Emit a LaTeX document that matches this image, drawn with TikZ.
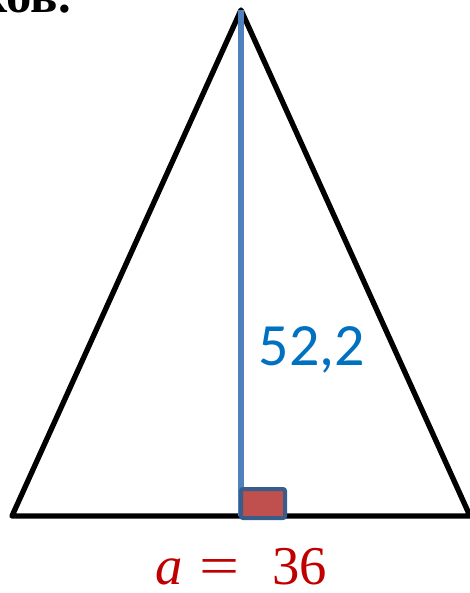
\documentclass[tikz,border=0pt]{standalone}
\usepackage{fontspec}
\setmainfont{Liberation Serif}
\newfontfamily\labelfont{Carlito}
\definecolor{hblue}{HTML}{4F81BD}
\definecolor{sqfill}{HTML}{C0504D}
\definecolor{sqedge}{HTML}{385D8A}
\definecolor{numblue}{HTML}{0070C0}
\definecolor{basered}{HTML}{C00000}
\begin{document}
\begin{tikzpicture}[x=0.75pt,y=-0.75pt]
\useasboundingbox (0,0) rectangle (469,593);
\coordinate (top) at (241,10);
\coordinate (bl) at (12,516);
\coordinate (br) at (470,516);
\coordinate (foot) at (241,516);
\node[anchor=base east, inner sep=0pt, font=\bfseries\fontsize{38}{38}\selectfont] (cap) at (71,12) {ков.};
\draw[line width=4pt, line join=round] (top) -- (bl) -- (br) -- cycle;
\draw[hblue, line width=3.8pt] (top) -- (foot);
\draw[sqedge, fill=sqfill, line width=3pt, rounded corners=1.5pt] (241,489) rectangle (285,518);
\node[numblue, font=\labelfont\fontsize{45}{45}\selectfont, inner sep=0pt] (h) at (312,350) {52,2};
\node[basered, font=\fontsize{41}{41}\selectfont, inner sep=0pt, anchor=base] (a) at (241,584) {\textit{a}\hspace{13pt}\scalebox{1.3}[1]{=}\hspace{24pt}36};
\end{tikzpicture}
\end{document}
